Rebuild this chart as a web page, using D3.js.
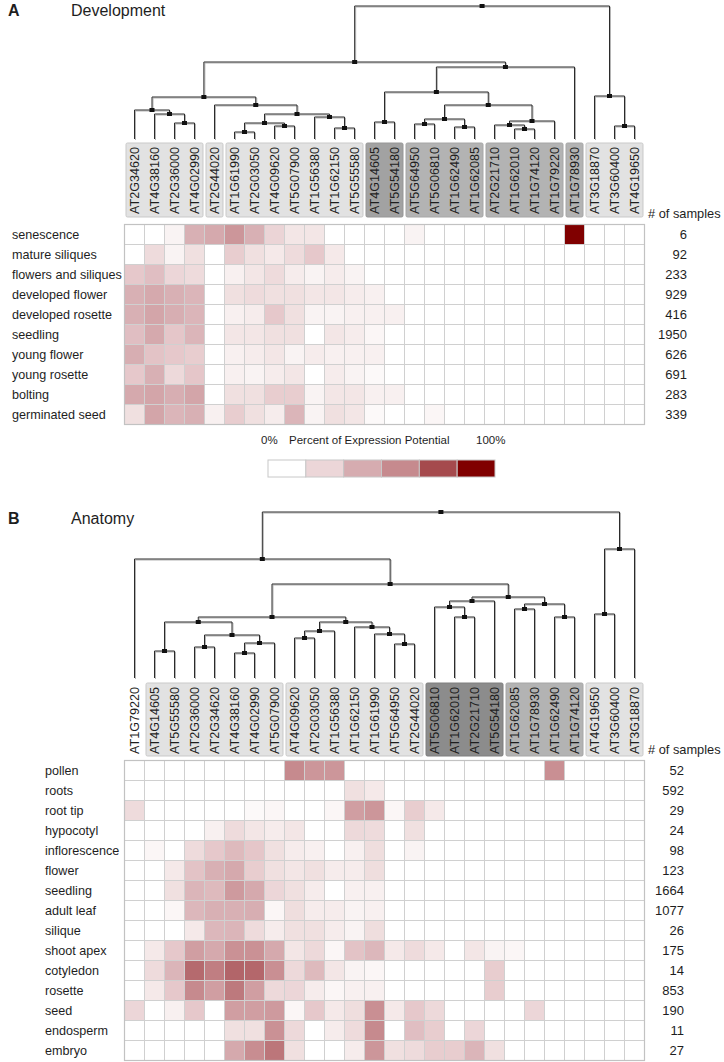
<!DOCTYPE html>
<html><head><meta charset="utf-8">
<script src="https://cdn.jsdelivr.net/npm/d3@7"></script>
<style>
body{margin:0;background:#fff}
text{font-family:"Liberation Sans",Arial,sans-serif;fill:#1e1e1e}
</style>
</head><body>
<svg id="c" width="724" height="1062"></svg>
<script>
// ---------------- Panel A: Development ----------------
const devGenes = ["AT2G34620","AT4G38160","AT2G36000","AT4G02990","AT2G44020","AT1G61990","AT2G03050","AT4G09620","AT5G07900","AT1G56380","AT1G62150","AT5G55580","AT4G14605","AT5G54180","AT5G64950","AT5G06810","AT1G62490","AT1G62085","AT2G21710","AT1G62010","AT1G74120","AT1G79220","AT1G78930","AT3G18870","AT3G60400","AT4G19650"];
const devTissues = ["senescence","mature siliques","flowers and siliques","developed flower","developed rosette","seedling","young flower","young rosette","bolting","germinated seed"];
const devSamples = [6,92,233,929,416,1950,626,691,283,339];
const devValues = [
 [0,0,4,30,33,42,30,15,8,8,0,0,0,0,4,0,0,0,0,0,0,0,100,0,0,0],
 [0,12,4,10,0,18,10,7,12,20,7,0,0,0,0,0,0,0,0,0,0,0,0,0,0,0],
 [20,24,14,12,0,5,8,12,6,4,6,4,0,0,0,0,0,0,0,0,0,0,0,0,0,0],
 [30,33,30,28,0,10,12,10,10,8,8,6,5,0,0,0,0,0,0,0,0,0,0,0,0,0],
 [30,35,31,28,0,5,6,20,10,4,4,5,5,5,0,0,0,0,0,0,0,0,0,0,0,0],
 [24,33,21,28,0,8,8,10,10,0,8,6,3,0,0,0,0,0,0,0,0,0,0,0,0,0],
 [31,22,20,18,0,5,6,8,4,6,5,5,5,0,0,0,0,0,0,0,0,0,0,0,0,0],
 [20,30,13,21,0,5,4,6,8,0,6,4,2,0,0,0,0,0,0,0,0,0,0,0,0,0],
 [33,35,31,35,0,10,10,18,18,4,8,8,5,5,0,0,0,0,0,0,0,0,0,0,0,0],
 [10,35,28,30,5,18,10,6,28,4,10,8,2,0,0,3,0,0,0,0,0,0,0,0,0,0]
];
// dendrogram: [distance, left, right]
const devTree = [133,
  [77,
    [42,
      [29,"AT2G34620",[25,"AT4G38160",[16,"AT2G36000","AT4G02990"]]],
      [34,"AT2G44020",
        [25,
          [16,[7,"AT1G61990","AT2G03050"],[13,"AT4G09620","AT5G07900"]],
          [22,"AT1G56380",[11,"AT1G62150","AT5G55580"]]]]],
    [72,
      [47,
        [17,"AT4G14605","AT5G54180"],
        [34,
          [20,[15,"AT5G64950","AT5G06810"],[12,"AT1G62490","AT1G62085"]],
          [18,[14,"AT2G21710",[10,"AT1G62010","AT1G74120"]],"AT1G79220"]]],
      "AT1G78930"]],
  [43,"AT3G18870",[13,"AT3G60400","AT4G19650"]]];
const devGroupSizes = [4,1,7,2,4,4,1,3];
const devGroupTones = ["light","light","light","dark","mid","mid","mid","light"];

// ---------------- Panel B: Anatomy ----------------
const anaGenes = ["AT1G79220","AT4G14605","AT5G55580","AT2G36000","AT2G34620","AT4G38160","AT4G02990","AT5G07900","AT4G09620","AT2G03050","AT1G56380","AT1G62150","AT1G61990","AT5G64950","AT2G44020","AT5G06810","AT1G62010","AT2G21710","AT5G54180","AT1G62085","AT1G78930","AT1G62490","AT1G74120","AT4G19650","AT3G60400","AT3G18870"];
const anaTissues = ["pollen","roots","root tip","hypocotyl","inflorescence","flower","seedling","adult leaf","silique","shoot apex","cotyledon","rosette","seed","endosperm","embryo"];
const anaSamples = [52,592,29,24,98,123,1664,1077,26,175,14,853,190,11,27];
const anaValues = [
 [0,0,0,0,0,0,0,0,47,42,42,0,0,0,0,0,0,0,0,0,0,45,0,0,0,0],
 [0,0,0,0,0,0,0,0,0,0,0,10,7,0,0,0,0,0,0,0,0,0,0,0,0,0],
 [12,0,0,0,0,0,2,3,0,0,3,38,42,3,18,7,0,0,0,0,0,0,0,0,0,0],
 [0,0,0,0,5,12,8,6,8,0,0,13,12,0,10,0,0,0,0,0,0,0,0,0,0,0],
 [0,3,0,12,20,26,21,10,6,5,0,5,11,0,4,0,0,0,0,0,0,0,0,0,0,0],
 [0,0,7,22,30,33,18,10,8,10,6,6,11,0,0,0,0,0,0,0,0,0,0,0,0,0],
 [0,0,10,28,26,40,33,14,10,6,0,5,5,0,0,0,0,0,0,0,0,0,0,0,0,0],
 [0,0,3,27,30,30,31,3,11,6,6,4,5,0,0,0,0,0,0,0,0,0,0,0,0,0],
 [0,0,0,7,27,28,12,6,10,10,6,4,11,0,0,0,0,0,0,0,0,0,0,0,0,0],
 [0,7,20,38,33,44,44,33,8,13,3,22,27,7,12,7,0,8,4,3,0,0,0,0,0,0],
 [0,12,28,60,52,62,61,45,13,26,8,4,3,0,0,0,0,0,18,0,0,0,0,0,0,0],
 [0,7,20,47,38,54,38,13,14,6,3,5,5,0,0,0,0,0,18,0,0,0,0,0,0,0],
 [14,0,5,20,0,38,38,40,3,20,7,11,45,7,20,13,0,0,0,0,14,0,0,0,0,0],
 [0,0,0,0,0,10,10,44,13,0,6,12,47,0,24,18,0,14,0,0,0,0,0,0,0,0],
 [0,0,0,0,0,33,46,55,10,0,0,6,42,10,12,18,18,28,10,0,0,0,0,0,0,0]
];
const anaTree = [166,
  [119,"AT1G79220",
    [94,
      [61,
        [56,
          [27,"AT4G14605","AT5G55580"],
          [43,[31,"AT2G36000","AT2G34620"],[35,[25,"AT4G38160","AT4G02990"],"AT5G07900"]]],
        [56,
          [47,[40,"AT4G09620","AT2G03050"],"AT1G56380"],
          [51,"AT1G62150",[44,"AT1G61990",[34,"AT5G64950","AT2G44020"]]]]],
      [81,
        [77,[71,"AT5G06810",[61,"AT1G62010","AT2G21710"]],"AT5G54180"],
        [74,[69,"AT1G62085","AT1G78930"],[61,"AT1G62490","AT1G74120"]]]]],
  [129,[64,"AT4G19650","AT3G60400"],"AT3G18870"]];
const anaGroupSizes = [1,7,7,4,4,3];
const anaGroupTones = ["none","light","light","darkest","mid","light"];

// ---------------- Legend ----------------
const legendSteps = [0,14,32,47,72,100];
const legendLabels = ["0%","Percent of Expression Potential","100%"];
const sampleHeader = "# of samples";

// ---------------- styles ----------------
const toneFill = {light:"#e2e2e2", mid:"#b3b3b3", dark:"#a2a2a2", darkest:"#8c8c8c"};
const toneStroke = {light:"#c9c9c9", mid:"#a6a6a6", dark:"#969696", darkest:"#7e7e7e"};
const color = d3.scaleLinear()
  .domain([0,10,20,30,45,60,100])
  .range(["#ffffff","#f0e0e0","#e6c8cb","#d8b0b4","#c98f93","#b56a6e","#800000"])
  .clamp(true);

const svg = d3.select("#c");

function drawPanel(cfg) {
  const g = svg.append("g");
  const x = d3.scaleBand().domain(cfg.genes).range([124.5, 644.5]);
  const bw = x.bandwidth();
  const y = d3.scaleBand().domain(cfg.tissues).range([cfg.top + 0.5, cfg.top + 0.5 + 20 * cfg.tissues.length]);

  // title
  g.append("text").attr("x", 8).attr("y", cfg.titleY).attr("font-size", 16).attr("font-weight", "bold").text(cfg.letter);
  g.append("text").attr("x", 71).attr("y", cfg.titleY).attr("font-size", 16).text(cfg.title);

  // dendrogram
  const maxH = cfg.tree[0];
  const yd = d3.scaleLinear().domain([0, maxH]).range([cfg.leafY, cfg.leafY - maxH]);
  function layout(n) {
    if (typeof n === "string") return {x: x(n) + bw / 2, h: 0};
    const l = layout(n[1]), r = layout(n[2]);
    return {x: (l.x + r.x) / 2, h: n[0], l, r};
  }
  const root = layout(cfg.tree);
  const segs = [], nodes = [];
  (function walk(n) {
    if (!n.l) return;
    segs.push([n.l.x, yd(n.h), n.r.x, yd(n.h)]);
    [n.l, n.r].forEach(c => { segs.push([c.x, yd(c.h), c.x, yd(n.h)]); walk(c); });
    nodes.push(n);
  })(root);
  const dg = g.append("g");
  dg.append("g").attr("transform", "translate(1,1)").selectAll("line").data(segs).join("line")
    .attr("x1", d => d[0]).attr("y1", d => d[1]).attr("x2", d => d[2]).attr("y2", d => d[3])
    .attr("stroke", "#b4b4b4").attr("stroke-width", 1);
  dg.append("g").selectAll("line").data(segs).join("line")
    .attr("x1", d => d[0]).attr("y1", d => d[1]).attr("x2", d => d[2]).attr("y2", d => d[3])
    .attr("stroke", "#2b2b2b").attr("stroke-width", 1);
  dg.append("g").selectAll("rect").data(nodes).join("rect")
    .attr("x", d => d.x - 2.5).attr("y", d => yd(d.h) - 2).attr("width", 5).attr("height", 4)
    .attr("fill", "#111");

  // label boxes
  let idx = 0;
  const groups = cfg.groupSizes.map((s, i) => {
    const gr = {first: cfg.genes[idx], last: cfg.genes[idx + s - 1], tone: cfg.groupTones[i]};
    idx += s; return gr;
  });
  g.append("g").selectAll("rect").data(groups.filter(d => d.tone !== "none")).join("rect")
    .attr("x", d => x(d.first) + 1.5).attr("y", cfg.boxTop)
    .attr("width", d => x(d.last) + bw - x(d.first) - 3).attr("height", cfg.boxBottom - cfg.boxTop)
    .attr("rx", 1.5)
    .attr("fill", d => toneFill[d.tone]).attr("stroke", d => toneStroke[d.tone]);
  g.append("g").selectAll("text").data(cfg.genes).join("text")
    .attr("transform", d => `translate(${x(d) + bw / 2},${cfg.boxTop + 4}) rotate(-90)`)
    .attr("text-anchor", "end").attr("dy", "0.36em").attr("font-size", 12.6)
    .text(d => d);

  // heatmap
  const cells = [];
  cfg.tissues.forEach((t, i) => cfg.genes.forEach((gn, j) => cells.push({t, gn, v: cfg.values[i][j]})));
  g.append("g").selectAll("rect").data(cells).join("rect")
    .attr("x", d => x(d.gn)).attr("y", d => y(d.t))
    .attr("width", bw).attr("height", y.bandwidth())
    .attr("fill", d => color(d.v)).attr("stroke", "#d0d0d0").attr("stroke-width", 1);
  g.append("rect").attr("x", x.range()[0]).attr("y", y.range()[0])
    .attr("width", x.range()[1] - x.range()[0]).attr("height", y.range()[1] - y.range()[0])
    .attr("fill", "none").attr("stroke", "#c2c2c2").attr("stroke-width", 1.2);

  // row labels
  g.append("g").selectAll("text").data(cfg.tissues).join("text")
    .attr("x", cfg.labelX).attr("y", d => y(d) + y.bandwidth() / 2).attr("dy", "0.35em")
    .attr("font-size", 12.6).text(d => d);
  // sample counts
  g.append("text").attr("x", 648).attr("y", cfg.top - 6).attr("font-size", 12.8).text(sampleHeader);
  g.append("g").selectAll("text").data(cfg.samples).join("text")
    .attr("x", cfg.countX).attr("y", (d, i) => y(cfg.tissues[i]) + y.bandwidth() / 2).attr("dy", "0.35em")
    .attr("text-anchor", "end").attr("font-size", 13).text(d => d);
}

drawPanel({letter:"A", title:"Development", titleY:16, genes:devGenes, tissues:devTissues, samples:devSamples,
  values:devValues, tree:devTree, groupSizes:devGroupSizes, groupTones:devGroupTones,
  leafY:139, boxTop:143, boxBottom:217, top:224, labelX:12, countX:687});
drawPanel({letter:"B", title:"Anatomy", titleY:524, genes:anaGenes, tissues:anaTissues, samples:anaSamples,
  values:anaValues, tree:anaTree, groupSizes:anaGroupSizes, groupTones:anaGroupTones,
  leafY:678, boxTop:683, boxBottom:756, top:760, labelX:45, countX:684});

// legend
const lg = svg.append("g");
const lx = d3.scaleBand().domain(legendSteps).range([268, 495]);
lg.selectAll("rect").data(legendSteps).join("rect")
  .attr("x", d => lx(d)).attr("y", 460).attr("width", lx.bandwidth()).attr("height", 17)
  .attr("fill", d => color(d)).attr("stroke", "#c8c8c8").attr("stroke-width", 1);
lg.append("text").attr("x", 261).attr("y", 444).attr("font-size", 11.5).text(legendLabels[0]);
lg.append("text").attr("x", 289).attr("y", 444).attr("font-size", 11.5).text(legendLabels[1]);
lg.append("text").attr("x", 476).attr("y", 444).attr("font-size", 11.5).text(legendLabels[2]);
</script>
</body></html>
